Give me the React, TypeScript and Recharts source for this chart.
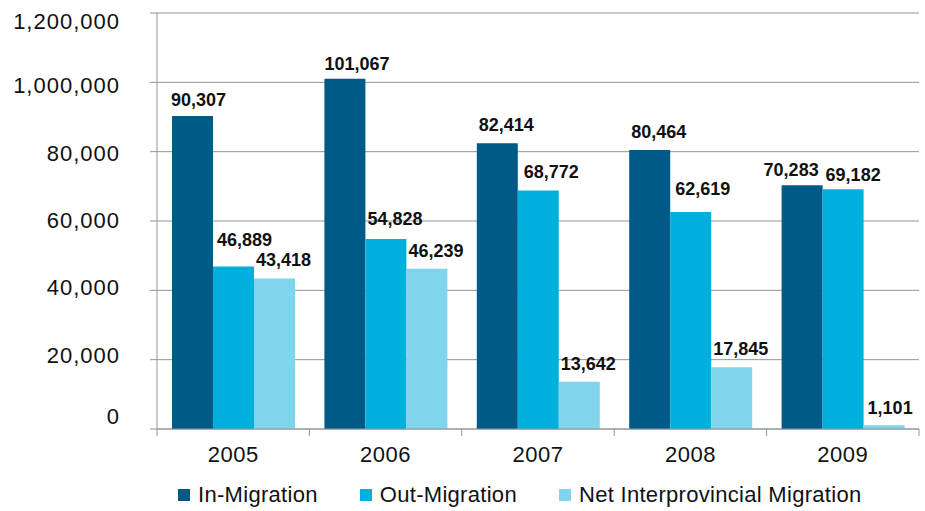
import { Bar, BarChart, CartesianGrid, LabelList, Legend, XAxis, YAxis } from 'recharts'

const years = ['2005', '2006', '2007', '2008', '2009']
const inMigration = [90307, 101067, 82414, 80464, 70283]
const outMigration = [46889, 54828, 68772, 62619, 69182]
const netMigration = [43418, 46239, 13642, 17845, 1101]

const yTicks = [0, 20000, 40000, 60000, 80000, 100000, 120000]
const yTickLabels = ['0', '20,000', '40,000', '60,000', '80,000', '1,000,000', '1,200,000']

const seriesNames = ['In-Migration', 'Out-Migration', 'Net Interprovincial Migration']
const colors = ['#005a87', '#00b0dc', '#80d4ec']

const data = years.map((year, i) => ({
    year,
    inMig: inMigration[i],
    outMig: outMigration[i],
    netMig: netMigration[i],
}))

const FONT = '"Liberation Sans", Arial, Helvetica, sans-serif'
const GRID = '#8f969c'
const BAND = 762 / years.length

// label y offsets relative to grid line (as drawn in the original)
const yLabelShift = [-13, -5, -3, -1, 1, 3, 8]

// hand-placed data labels in the original: [dx, gap above bar]
const labelNudge: Record<string, [number, number]> = {
    'inMig-0': [-1, 10],
    'outMig-0': [4, 20],
    'inMig-1': [0, 9],
    'outMig-1': [2, 14],
    'outMig-2': [6, 13],
    'outMig-3': [5, 17],
    'inMig-4': [-18, 9],
    'outMig-4': [3, 8],
    'netMig-4': [4, 11],
}

const fmt = (v: number) => v.toLocaleString('en-US')

const YTick = (props: any) => {
    const { y, payload, index } = props
    return (
        <text
            x={120}
            y={y + yLabelShift[index]}
            dy='0.36em'
            textAnchor='end'
            fontFamily={FONT}
            fontSize={22}
            letterSpacing={1}
            fill='#111'
        >
            {yTickLabels[yTicks.indexOf(payload.value)]}
        </text>
    )
}

const XTick = (props: any) => {
    const { x, payload, index } = props
    const left = x - BAND / 2
    return (
        <g>
            <line x1={left} x2={left} y1={429} y2={436} stroke={GRID} />
            {index === years.length - 1 && (
                <line x1={x + BAND / 2} x2={x + BAND / 2} y1={429} y2={436} stroke={GRID} />
            )}
            <text
                x={x}
                y={462}
                textAnchor='middle'
                fontFamily={FONT}
                fontSize={22}
                letterSpacing={0.5}
                fill='#111'
            >
                {payload.value}
            </text>
        </g>
    )
}

const makeLabel = (key: string) => (props: any) => {
    const { x, y, value, index } = props
    const [dx, gap] = labelNudge[`${key}-${index}`] ?? [2, 12]
    return (
        <text
            x={x + dx}
            y={y - gap}
            textAnchor='start'
            fontFamily={FONT}
            fontSize={18}
            fontWeight='bold'
            fill='#111'
        >
            {fmt(value)}
        </text>
    )
}

const LegendContent = () => (
    <div
        style={{
            display: 'flex',
            paddingLeft: 178,
            fontFamily: FONT,
            fontSize: 22,
            letterSpacing: 0.3,
            color: '#111',
            alignItems: 'center',
            height: 32,
        }}
    >
        {seriesNames.map((name, i) => (
            <div key={name} style={{ display: 'flex', alignItems: 'center', marginRight: 42 }}>
                <span style={{ width: 12, height: 12, background: colors[i], marginRight: 8 }} />
                <span>{name}</span>
            </div>
        ))}
    </div>
)

export default function App() {
    return (
        <div style={{ position: 'absolute', left: 0, top: 0, width: 925, height: 511, background: '#fff' }}>
            <BarChart
                width={925}
                height={511}
                data={data}
                margin={{ top: 13, right: 6, left: 0, bottom: 0 }}
                barCategoryGap={15}
                barGap={0}
            >
                <CartesianGrid vertical={false} stroke={GRID} />
                <XAxis
                    dataKey='year'
                    height={50}
                    axisLine={{ stroke: GRID }}
                    tickLine={false}
                    tick={<XTick />}
                    interval={0}
                />
                <YAxis
                    width={157}
                    domain={[0, 120000]}
                    ticks={yTicks}
                    axisLine={{ stroke: GRID }}
                    tickLine={{ stroke: GRID }}
                    tickSize={7}
                    tick={<YTick />}
                    interval={0}
                />
                <Legend verticalAlign='bottom' height={32} wrapperStyle={{ left: 0, width: 925 }} content={<LegendContent />} />
                <Bar dataKey='inMig' name={seriesNames[0]} fill={colors[0]} isAnimationActive={false}>
                    <LabelList dataKey='inMig' content={makeLabel('inMig')} />
                </Bar>
                <Bar dataKey='outMig' name={seriesNames[1]} fill={colors[1]} isAnimationActive={false}>
                    <LabelList dataKey='outMig' content={makeLabel('outMig')} />
                </Bar>
                <Bar dataKey='netMig' name={seriesNames[2]} fill={colors[2]} isAnimationActive={false}>
                    <LabelList dataKey='netMig' content={makeLabel('netMig')} />
                </Bar>
            </BarChart>
        </div>
    )
}
